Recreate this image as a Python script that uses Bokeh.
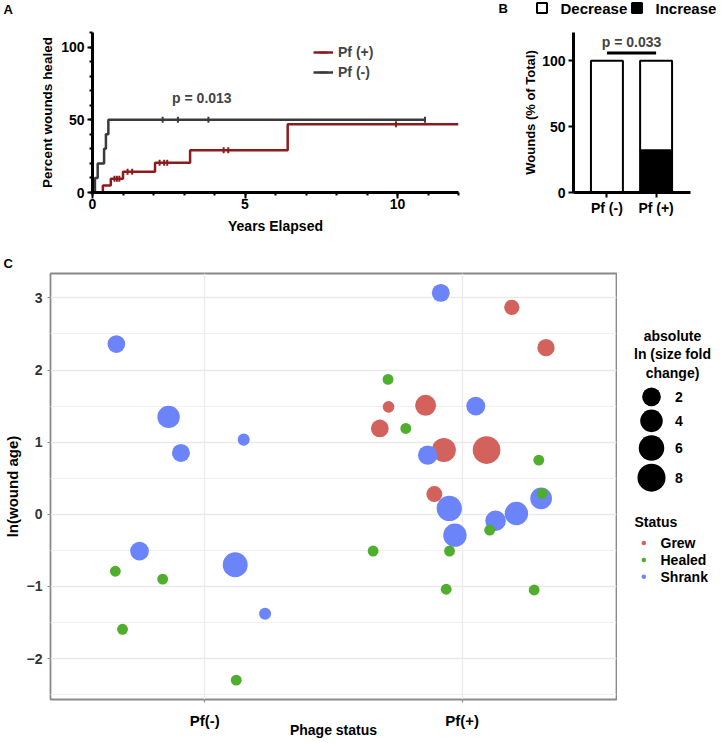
import numpy as np
from bokeh.plotting import figure
from bokeh.models import (Range1d, SingleIntervalTicker, FixedTicker, Legend,
                          LegendItem, Label, ColumnDataSource)
from bokeh.layouts import column, row
from bokeh.embed import file_html
from bokeh.resources import INLINE
from bokeh.core.properties import value

FONT = "Liberation Sans"

# ---------------- Panel A data (Kaplan-Meier) ----------------
km_groups = ["Pf (+)", "Pf (-)"]
pos_times = [0.0, 0.34, 0.60, 1.00, 2.05, 3.20, 6.40, 12.0]
pos_pct = [0.0, 4.8, 9.5, 14.3, 20.5, 29.0, 47.0, 47.0]
pos_censored = [0.72, 0.80, 0.88, 1.15, 1.30, 2.20, 2.35, 2.45, 4.30, 4.45, 9.95]
neg_times = [0.0, 0.08, 0.17, 0.38, 0.44, 0.52, 10.9]
neg_pct = [0.0, 10.0, 20.0, 30.0, 40.0, 50.0, 50.0]
neg_censored = [2.3, 2.8, 3.8, 10.9]
km_p_text = "p = 0.013"

# ---------------- Panel B data ----------------
bar_groups = ["Pf (-)", "Pf (+)"]
increase_pct = [0, 32]
decrease_pct = [100, 68]
bar_series = ["Decrease", "Increase"]
bar_p_text = "p = 0.033"

# ---------------- Panel C data ----------------
phage = ["Pf(-)"] * 11 + ["Pf(+)"] * 25
jitter = [-0.344, -0.141, -0.093, 0.151, -0.254, -0.348, -0.164, -0.320, 0.118, 0.122, 0.234,
          -0.346, -0.288, -0.286, -0.320, -0.219, -0.142, -0.134, -0.071, -0.083, 0.193,
          0.326, 0.053, 0.095, 0.298, -0.108, -0.050, -0.028, 0.130, 0.211, 0.307,
          0.311, 0.107, -0.049, -0.062, 0.280]
ln_age = [2.36, 1.35, 0.85, 1.035, -0.51, -0.79, -0.90, -1.595, -0.70, -2.30, -1.38,
          -0.51, 1.87, 1.49, 1.19, 1.19, 1.51, 0.82, 0.89, 3.07, 2.87,
          2.31, 1.50, 0.89, 0.75, 0.28, 0.08, -0.29, -0.09, 0.01, 0.22,
          0.29, -0.22, -0.51, -1.04, -1.05]
status = ["Shrank", "Shrank", "Shrank", "Shrank", "Shrank", "Healed", "Healed", "Healed", "Shrank", "Healed", "Shrank",
          "Healed", "Healed", "Grew", "Grew", "Healed", "Grew", "Shrank", "Grew", "Shrank", "Grew",
          "Grew", "Shrank", "Grew", "Healed", "Grew", "Shrank", "Shrank", "Shrank", "Shrank", "Shrank",
          "Healed", "Healed", "Healed", "Healed", "Healed"]
fold = [1.6, 3.9, 1.7, 0.16, 2.0, 0.05, 0.05, 0.05, 5.6, 0.05, 0.16,
        0.05, 0.05, 0.12, 1.6, 0.05, 3.1, 2.3, 4.9, 1.7, 0.8,
        1.45, 2.1, 7.7, 0.05, 1.0, 5.8, 4.5, 2.9, 4.5, 3.5,
        0.05, 0.05, 0.05, 0.05, 0.05]
phage_levels = ["Pf(-)", "Pf(+)"]
status_levels = ["Grew", "Healed", "Shrank"]
status_colors = ["#D2625B", "#4FAE2C", "#6B84FA"]
size_breaks = [2, 4, 6, 8]
size_title = ["absolute", "ln (size fold", "change)"]


def diameter(v):
    return 9.4 + 6.58 * np.sqrt(np.asarray(v, dtype=float))


def step_value(times, pct, t):
    i = np.searchsorted(times, t, side="right") - 1
    return np.asarray(pct)[i]


def style_text(ax, size="14px", label_size="14px", color="black"):
    ax.major_label_text_font = FONT
    ax.major_label_text_font_style = "bold"
    ax.major_label_text_font_size = size
    ax.major_label_text_color = color
    ax.axis_label_text_font = FONT
    ax.axis_label_text_font_style = "bold"
    ax.axis_label_text_font_size = label_size
    ax.axis_label_text_color = "black"


def prism_axis(ax):
    ax.axis_line_width = 3
    ax.axis_line_color = "black"
    ax.major_tick_line_width = 2
    ax.major_tick_in = 0
    ax.minor_tick_line_width = 2
    ax.minor_tick_in = 0


def blank(width, height):
    f = figure(width=width, height=height, x_range=Range1d(0, width), y_range=Range1d(height, 0),
               output_backend="svg", toolbar_location=None, min_border=0,
               x_axis_location=None, y_axis_location=None)
    f.grid.visible = False
    f.outline_line_color = None
    return f


TXT = dict(text_font=value(FONT), text_font_style="bold", text_baseline="middle",
           text_color="black")

# ================= header strip: panel letters A, B and panel B key =================
hd = blank(726, 20)
hd.text(x=[3, 498], y=[9, 8], text=["A", "B"], text_font_size="13px", text_align="left", **TXT)
key_x = [541.5, 636.5]
hd.scatter(x=key_x, y=[7.5, 7.5], marker="square", size=10,
           fill_color=["white", "black"], line_color="black", line_width=2)
hd.text(x=[k + 18.5 for k in key_x], y=[8, 8], text=bar_series, text_font_size="15px",
        text_align="left", **TXT)

# ================= Panel A =================
pa = figure(width=470, height=220, x_range=Range1d(0, 12), y_range=Range1d(0, 110),
            output_backend="svg", toolbar_location=None,
            min_border_left=92, min_border_right=12, min_border_top=12, min_border_bottom=48)
km_series = [(km_groups[0], pos_times, pos_pct, pos_censored, "#8E1B1B"),
             (km_groups[1], neg_times, neg_pct, neg_censored, "#3A3A3A")]
km_items = []
for name, t, pct, cens, col in km_series:
    r1 = pa.step(t, pct, mode="after", line_color=col, line_width=2.5)
    r2 = pa.scatter(cens, step_value(t, pct, cens), marker="dash", angle=np.pi / 2,
                    size=6, line_color=col, line_width=2)
    km_items.append(LegendItem(label=name, renderers=[r1, r2]))

for ax in (pa.xaxis[0], pa.yaxis[0]):
    prism_axis(ax)
    style_text(ax)
pa.xaxis.ticker = SingleIntervalTicker(interval=5, num_minor_ticks=5)
pa.yaxis.ticker = SingleIntervalTicker(interval=50, num_minor_ticks=5)
pa.xaxis.major_tick_out = 6
pa.xaxis.minor_tick_out = 3
pa.yaxis.major_tick_out = 5
pa.yaxis.minor_tick_out = 3
pa.xaxis.major_label_standoff = 0
pa.yaxis.major_label_standoff = 3
pa.xaxis.axis_label = "Years Elapsed"
pa.yaxis.axis_label = "Percent wounds healed"
pa.xaxis.axis_label_standoff = 6
pa.yaxis.axis_label_standoff = 3
pa.yaxis.axis_label_text_font_size = "13.5px"
pa.grid.visible = False
pa.outline_line_color = None

leg_a = Legend(items=km_items, location=(221, 110), glyph_width=20, glyph_height=20,
               label_height=20, spacing=0, padding=0, margin=0, label_standoff=5,
               border_line_color=None, background_fill_alpha=0,
               label_text_font=FONT, label_text_font_style="bold", label_text_font_size="14px")
pa.add_layout(leg_a)
pa.add_layout(Label(x=2.61, y=65, text=km_p_text, text_baseline="middle", text_font=FONT,
                    text_font_style="bold", text_font_size="14px"))

# ================= Panel B =================
bar_x = [i + 1 for i in range(len(bar_groups))]
src_b = ColumnDataSource(dict(x=bar_x, increase=increase_pct, decrease=decrease_pct))
pb = figure(width=256, height=220, x_range=Range1d(0.32, 2.7), y_range=Range1d(0, 121.5),
            output_backend="svg", toolbar_location=None,
            min_border_left=103, min_border_right=36, min_border_top=10, min_border_bottom=48)
r_inc, r_dec = pb.vbar_stack(["increase", "decrease"], x="x", width=0.65, source=src_b,
                             fill_color=["black", "white"], line_color="black", line_width=2)
for ax in (pb.xaxis[0], pb.yaxis[0]):
    prism_axis(ax)
    style_text(ax)
pb.yaxis.ticker = SingleIntervalTicker(interval=50, num_minor_ticks=0)
pb.xaxis.ticker = FixedTicker(ticks=bar_x)
pb.xaxis.major_label_overrides = {x: g for x, g in zip(bar_x, bar_groups)}
pb.xaxis.major_tick_out = 5
pb.yaxis.major_tick_out = 5
pb.xaxis.major_label_standoff = 2
pb.yaxis.major_label_standoff = 3
pb.yaxis.axis_label = "Wounds (% of Total)"
pb.yaxis.axis_label_text_font_size = "13px"
pb.yaxis.axis_label_standoff = 1
pb.grid.visible = False
pb.outline_line_color = None
pb.segment(x0=bar_x[0], x1=bar_x[1], y0=106, y1=106, line_color="black", line_width=3)
pb.add_layout(Label(x=(bar_x[0] + bar_x[1]) / 2, y=114.3, text=bar_p_text, text_align="center",
                    text_baseline="middle", text_font=FONT, text_font_style="bold",
                    text_font_size="14px"))

# ================= strip with panel letter C =================
cs = blank(726, 32)
cs.text(x=[3], y=[23], text=["C"], text_font_size="13px", text_align="left", **TXT)

# ================= Panel C =================
y_lo, y_hi = min(ln_age), max(ln_age)
y_pad = 0.05 * (y_hi - y_lo)
pc = figure(width=617, height=471, x_range=Range1d(0.4, 2.6),
            y_range=Range1d(y_lo - y_pad, y_hi + y_pad),
            output_backend="svg", toolbar_location=None,
            min_border_left=47, min_border_right=1, min_border_top=1, min_border_bottom=44)
px = [phage_levels.index(g) + 1 + j for g, j in zip(phage, jitter)]
dia = diameter(fold)
for lev in ["Grew", "Shrank", "Healed"]:
    idx = [i for i, s in enumerate(status) if s == lev]
    src = ColumnDataSource(dict(x=[px[i] for i in idx], y=[ln_age[i] for i in idx],
                                d=[dia[i] for i in idx]))
    pc.scatter("x", "y", size="d", source=src, fill_color=status_colors[status_levels.index(lev)],
               line_color=None)

pc.xaxis.ticker = FixedTicker(ticks=[1, 2])
pc.xaxis.major_label_overrides = {1: phage_levels[0], 2: phage_levels[1]}
pc.yaxis.ticker = SingleIntervalTicker(interval=1, num_minor_ticks=2)
for ax in (pc.xaxis[0], pc.yaxis[0]):
    ax.axis_line_color = None
    ax.major_tick_line_color = "#8A8A8A"
    ax.major_tick_line_width = 1.2
    ax.major_tick_out = 3
    ax.major_tick_in = 0
    ax.minor_tick_line_color = None
pc.yaxis.major_label_standoff = 4
pc.xaxis.major_label_standoff = 9
style_text(pc.yaxis[0], size="14px", label_size="15px", color="#333333")
style_text(pc.xaxis[0], size="15px", label_size="14px", color="black")
pc.yaxis.axis_label = "ln(wound age)"
pc.xaxis.axis_label = "Phage status"
pc.yaxis.axis_label_standoff = 3
pc.xaxis.axis_label_standoff = -10
pc.xgrid.grid_line_color = "#EAEAEA"
pc.xgrid.grid_line_width = 1.3
pc.ygrid.grid_line_color = "#EAEAEA"
pc.ygrid.grid_line_width = 1.3
pc.ygrid.minor_grid_line_color = "#EFEFEF"
pc.ygrid.minor_grid_line_width = 1.2
pc.outline_line_color = "#8A8A8A"
pc.outline_line_width = 1.8

# ---------------- Panel C keys (size and colour) ----------------
pl = blank(109, 471)
title_y = [69 + 20.5 * i for i in range(len(size_title))]
pl.text(x=[55] * len(size_title), y=title_y, text=size_title, text_align="center",
        text_font_size="14px", **TXT)
key_d = diameter(size_breaks)
key_y = [136.3]
for i in range(1, len(size_breaks)):
    key_y.append(key_y[-1] + (key_d[i - 1] + key_d[i]) / 2 + 6)
pl.scatter(x=[34] * len(size_breaks), y=key_y, size=key_d, fill_color="black", line_color=None)
pl.text(x=[57.5] * len(size_breaks), y=key_y, text=[str(b) for b in size_breaks],
        text_align="left", text_font_size="14px", **TXT)
pl.text(x=[17], y=[274.7], text=["Status"], text_align="left", text_font_size="14px", **TXT)
st_y = [298 + 18.65 * i for i in range(len(status_levels))]
pl.scatter(x=[26.3] * len(status_levels), y=st_y, size=4.5, fill_color=status_colors,
           line_color=None)
pl.text(x=[43] * len(status_levels), y=st_y, text=status_levels, text_align="left",
        text_font_size="14px", **TXT)

layout = column(hd, row(pa, pb), cs, row(pc, pl))
open("out.html", "w").write(file_html(layout, INLINE))
